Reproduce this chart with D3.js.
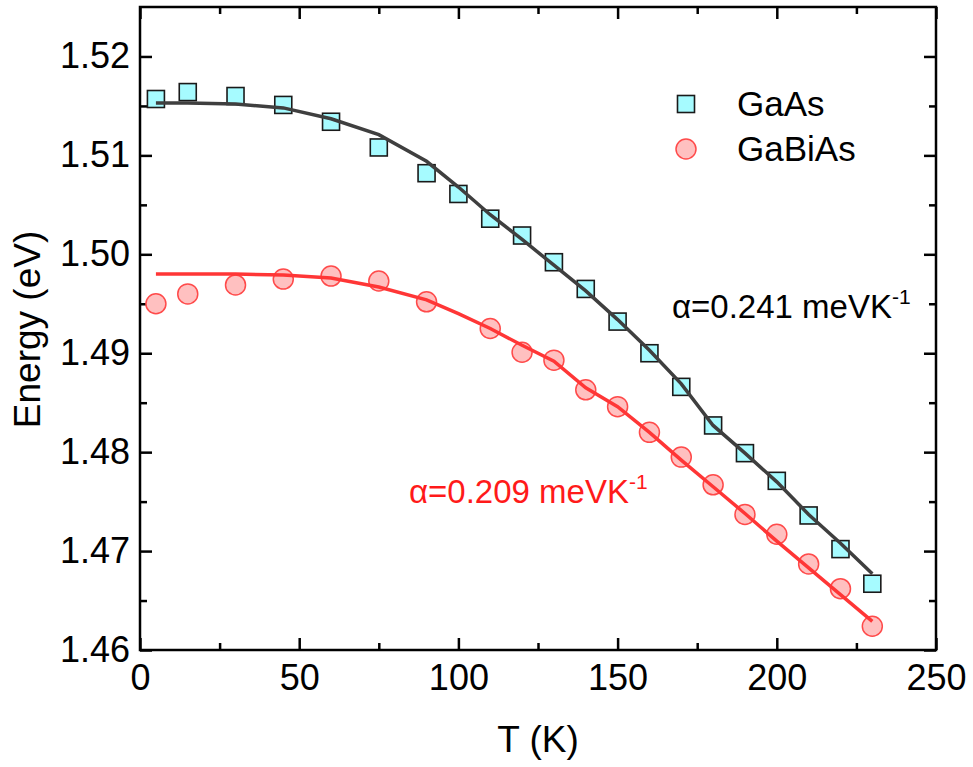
<!DOCTYPE html>
<html>
<head>
<meta charset="utf-8">
<script src="https://cdn.jsdelivr.net/npm/d3@7"></script>
<style>
  body { margin: 0; background: #fff; }
  svg { font-family: "Liberation Sans", Arial, sans-serif; }
</style>
</head>
<body>
<svg width="973" height="767"></svg>
<script>
// measured points
var gaasT = [5, 15, 30, 45, 60, 75, 90, 100, 110, 120, 130, 140, 150, 160, 170, 180, 190, 200, 210, 220, 230]
var gaasE = [1.5157, 1.5164, 1.5160, 1.5151, 1.5134, 1.5108, 1.5082, 1.5061, 1.5036, 1.5019, 1.4992, 1.4965, 1.4932, 1.4900, 1.4866, 1.4827, 1.4799, 1.4771, 1.4736, 1.4702, 1.4667]

var gabiasT = [5, 15, 30, 45, 60, 75, 90, 110, 120, 130, 140, 150, 160, 170, 180, 190, 200, 210, 220, 230]
var gabiasE = [1.4950, 1.4960, 1.4969, 1.4975, 1.4978, 1.4973, 1.4952, 1.4925, 1.4901, 1.4893, 1.4863, 1.4846, 1.4820, 1.4795, 1.4767, 1.4737, 1.4717, 1.4687, 1.4662, 1.4624]

// fitted curves
var fitT = [5, 15, 30, 45, 60, 75, 90, 100, 110, 120, 130, 140, 150, 160, 170, 180, 190, 200, 210, 220, 230]
var gaasFit = [1.5153, 1.5153, 1.5152, 1.5148, 1.5137, 1.5121, 1.5094, 1.5068, 1.5040, 1.5015, 1.4989, 1.4963, 1.4934, 1.4903, 1.4869, 1.4827, 1.4799, 1.4770, 1.4737, 1.4708, 1.4677]
var gabiasFit = [1.4980, 1.4980, 1.4980, 1.4979, 1.4976, 1.4967, 1.4954, 1.4940, 1.4925, 1.4908, 1.4892, 1.4865, 1.4846, 1.4820, 1.4792, 1.4765, 1.4738, 1.4710, 1.4683, 1.4656, 1.4629]

var xTicks = [0, 50, 100, 150, 200, 250]
var yTicks = [1.46, 1.47, 1.48, 1.49, 1.50, 1.51, 1.52]

var svg = d3.select("svg")
var margin = {left: 140, top: 7, right: 37, bottom: 117}
var W = 973 - margin.left - margin.right
var H = 767 - margin.top - margin.bottom

var x = d3.scaleLinear().domain([0, 250]).range([0, W])
var y = d3.scaleLinear().domain([1.46, 1.525]).range([H, 0])

var g = svg.append("g").attr("transform", "translate(" + margin.left + "," + margin.top + ")")

// ticks, all inward, on four sides
var minorX = d3.range(25, 250, 50)
var minorY = d3.range(1.465, 1.525, 0.01)

function tickAxis(axisFn, scale, vals, len, tr) {
    var a = g.append("g").attr("transform", tr)
        .call(axisFn(scale).tickValues(vals).tickSizeInner(len).tickSizeOuter(0).tickFormat(""))
    a.select(".domain").remove()
    a.selectAll("line").attr("stroke", "#000").attr("stroke-width", 2.5)
    return a
}
tickAxis(d3.axisTop, x, xTicks, 12, "translate(0," + H + ")")
tickAxis(d3.axisTop, x, minorX, 7, "translate(0," + H + ")")
tickAxis(d3.axisBottom, x, xTicks, 12, "translate(0,0)")
tickAxis(d3.axisBottom, x, minorX, 7, "translate(0,0)")
tickAxis(d3.axisRight, y, yTicks, 12, "translate(0,0)")
tickAxis(d3.axisRight, y, minorY, 7, "translate(0,0)")
tickAxis(d3.axisLeft, y, yTicks, 12, "translate(" + W + ",0)")
tickAxis(d3.axisLeft, y, minorY, 7, "translate(" + W + ",0)")

// tick labels
var xl = g.append("g").attr("transform", "translate(0," + H + ")")
    .call(d3.axisBottom(x).tickValues(xTicks).tickSize(0).tickPadding(14).tickFormat(d3.format("d")))
xl.select(".domain").remove()
xl.selectAll("text").attr("font-size", 36).attr("font-family", "Liberation Sans, Arial, sans-serif").attr("fill", "#000").attr("dy", "0.71em")

var yl = g.append("g")
    .call(d3.axisLeft(y).tickValues(yTicks).tickSize(0).tickPadding(10).tickFormat(d3.format(".2f")))
yl.select(".domain").remove()
yl.selectAll("text").attr("font-size", 36).attr("font-family", "Liberation Sans, Arial, sans-serif").attr("fill", "#000")

// frame
g.append("rect").attr("width", W).attr("height", H)
    .attr("fill", "none").attr("stroke", "#000").attr("stroke-width", 2.5)

// markers
var gaas = gaasT.map((t, i) => ({t: t, e: gaasE[i]}))
var gabias = gabiasT.map((t, i) => ({t: t, e: gabiasE[i]}))
var sq = 17

g.append("g").selectAll("rect").data(gaas).enter().append("rect")
    .attr("x", d => x(d.t) - sq / 2)
    .attr("y", d => y(d.e) - sq / 2)
    .attr("width", sq).attr("height", sq)
    .attr("fill", "#a6fbff").attr("stroke", "#1a1a1a").attr("stroke-width", 1.6)

g.append("g").selectAll("circle").data(gabias).enter().append("circle")
    .attr("cx", d => x(d.t))
    .attr("cy", d => y(d.e))
    .attr("r", 10)
    .attr("fill", "#ffc0c0").attr("stroke", "#ff4a4a").attr("stroke-width", 1.5)

// fit lines
var line = d3.line().x(d => x(d[0])).y(d => y(d[1]))
g.append("path").datum(fitT.map((t, i) => [t, gaasFit[i]]))
    .attr("d", line).attr("fill", "none").attr("stroke", "#3f3f3f").attr("stroke-width", 3.5)
g.append("path").datum(fitT.map((t, i) => [t, gabiasFit[i]]))
    .attr("d", line).attr("fill", "none").attr("stroke", "#ff3636").attr("stroke-width", 3.5)

// legend
var lg = svg.append("g")
lg.append("rect").attr("x", 686 - sq / 2).attr("y", 104 - sq / 2).attr("width", sq).attr("height", sq)
    .attr("fill", "#a6fbff").attr("stroke", "#1a1a1a").attr("stroke-width", 1.6)
lg.append("circle").attr("cx", 686).attr("cy", 149).attr("r", 10)
    .attr("fill", "#ffc0c0").attr("stroke", "#ff4a4a").attr("stroke-width", 1.5)
lg.append("text").attr("x", 737).attr("y", 116).attr("font-size", 35).text("GaAs")
lg.append("text").attr("x", 737).attr("y", 161).attr("font-size", 35).text("GaBiAs")

// annotations
function alphaLabel(xp, yp, txt, col) {
    var t = svg.append("text").attr("x", xp).attr("y", yp).attr("font-size", 33).attr("fill", col)
    t.append("tspan").text(txt)
    t.append("tspan").attr("font-size", 21).attr("dy", -14).text("-1")
}
alphaLabel(672, 318, "\u03b1=0.241 meVK", "#000")
alphaLabel(409, 503, "\u03b1=0.209 meVK", "#ff1a1a")

// axis titles
svg.append("text").attr("x", margin.left + W / 2).attr("y", 752)
    .attr("text-anchor", "middle").attr("font-size", 37).text("T (K)")
svg.append("text").attr("transform", "translate(40," + (margin.top + H / 2 + 1) + ") rotate(-90)")
    .attr("text-anchor", "middle").attr("font-size", 37).text("Energy (eV)")
</script>
</body>
</html>
